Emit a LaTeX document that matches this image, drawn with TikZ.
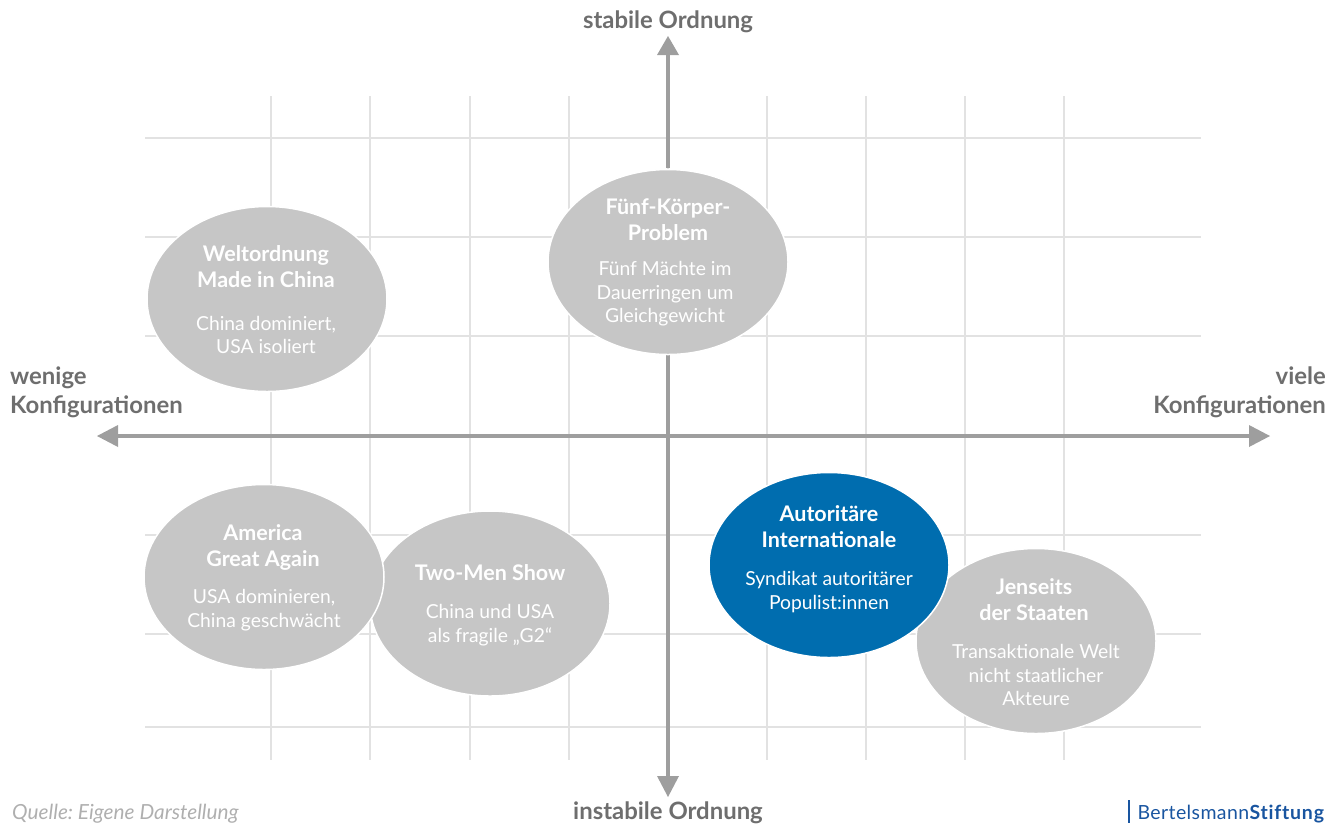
\documentclass[tikz,border=0pt]{standalone}
\usepackage{fontspec}
\setmainfont{Lato}
\usetikzlibrary{positioning,shapes,arrows}
\definecolor{ggrid}{RGB}{226,226,226}
\definecolor{gaxis}{RGB}{158,158,158}
\definecolor{gblob}{RGB}{198,198,198}
\definecolor{gtext}{RGB}{110,110,110}
\definecolor{gsource}{RGB}{175,175,175}
\definecolor{bblue}{RGB}{0,109,175}
\definecolor{logoblue}{RGB}{25,85,160}
\begin{document}
\begin{tikzpicture}[x=1pt,y=-1pt,
  blob/.style={draw=white,line width=1.5pt,ellipse,fill=gblob,minimum width=240pt,minimum height=185pt,inner sep=0pt},
  bluename/.style={blob,fill=bblue},
  head/.style={text=white,font=\fontsize{21.5}{26}\selectfont\bfseries,align=center},
  sub/.style={text=white,font=\fontsize{19.3}{23.5}\selectfont,align=center},
  axislabel/.style={text=gtext,inner sep=0pt,font=\fontsize{23.9}{29}\selectfont\bfseries},
  axis/.style={draw=gaxis,line width=4pt}]
\useasboundingbox (0,0) rectangle (1340,823);
% grid
\foreach \y in {138,237,336,435,535,634,727}
  \draw[ggrid,line width=1.2pt] (145,\y) -- (1201,\y);
\foreach \x in {271,370,470,569,668,767,866,965,1064}
  \draw[ggrid,line width=1.2pt] (\x,96) -- (\x,760);
% axes
\coordinate (up) at (668,168);
\coordinate (down) at (668,355);
\node[axislabel] (top) at (668,21.5) {stabile Ordnung};
\node[axislabel] (bottom) at (668,812.5) {instabile Ordnung};
\node[axislabel,align=left,anchor=west] (left) at (10,392) {wenige\\Konfigurationen};
\node[axislabel,align=right,anchor=east] (right) at (1326,392) {viele\\Konfigurationen};
\coordinate (ytop) at (668,36);
\coordinate (ybot) at (668,797);
\coordinate (xleft) at (97,436);
\coordinate (xright) at (1270,436);
\draw[axis] (up) -- (668,54);
\fill[gaxis] (ytop) -- (679,55) -- (657,55) -- cycle;
\draw[axis] (down) -- (668,778);
\fill[gaxis] (ybot) -- (679,776) -- (657,776) -- cycle;
\draw[axis] (116,436) -- (1251,436);
\fill[gaxis] (xleft) -- (118,425) -- (118,447) -- cycle;
\fill[gaxis] (xright) -- (1249,425) -- (1249,447) -- cycle;
% ellipses
\node[blob] (china) at (267,299) {};
\node[blob] (fuenf) at (668,262) {};
\node[blob] (two) at (490,603.5) {};
\node[blob] (america) at (264,577) {};
\node[blob] (jenseits) at (1036,641) {};
\node[bluename] (auto) at (829,565) {};
% texts
\node[head] (chinahead) at (266,267) {Weltordnung\\Made in China};
\node[sub] (chinasub) at (266,335) {China dominiert,\\USA isoliert};
\node[head] (fuenfhead) at (668,220) {Fünf-Körper-\\Problem};
\node[sub] (fuenfsub) at (665,294) {Fünf Mächte im\\Dauerringen um\\Gleichgewicht};
\node[head] (amerhead) at (263,547) {America\\Great Again};
\node[sub] (amersub) at (264,610) {USA dominieren,\\China geschwächt};
\node[head] (twohead) at (490,573) {Two-Men Show};
\node[sub] (twosub) at (490,625) {China und USA\\als fragile „G2“};
\node[head] (autohead) at (829,527) {Autoritäre\\Internationale};
\node[sub] (autosub) at (829,592) {Syndikat autoritärer\\Populist:innen};
\node[head] (jenshead) at (1034,600) {Jenseits\\der Staaten};
\node[sub] (jenssub) at (1036,675) {Transaktionale Welt\\nicht staatlicher\\Akteure};
% footer
\node[anchor=west,inner sep=0pt,text=gsource,font=\fontsize{20.8}{24}\selectfont\itshape\frenchspacing] (source) at (12,813.5) {Quelle: Eigene Darstellung};
\node[anchor=east,inner sep=0pt,text=logoblue,font=\fontsize{19.5}{24}\selectfont] (logo) at (1325,814) {\addfontfeature{LetterSpace=2}Bertelsmann\textbf{\addfontfeature{LetterSpace=4,Ligatures=NoCommon}Stiftung}};
\coordinate (logotop) at (1129,800);
\coordinate (logobot) at (1129,823);
\draw[logoblue,line width=2pt] (logotop) -- (logobot);
\end{tikzpicture}
\end{document}
